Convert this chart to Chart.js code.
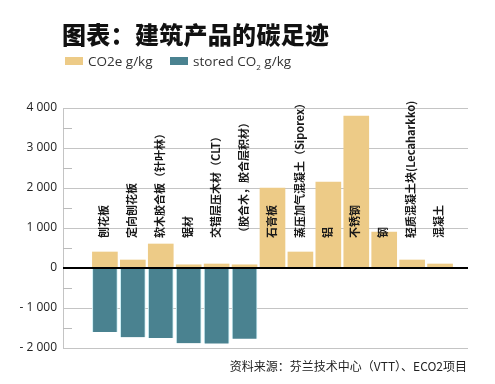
<!DOCTYPE html>
<html>
<head>
<meta charset="utf-8">
<script src="https://cdn.jsdelivr.net/npm/chart.js@4"></script>
<style>
    body { margin: 0; background: #fff; font-family: 'Noto Sans CJK SC', 'Noto Sans', sans-serif; }
    #wrap { position: relative; width: 495px; height: 384px; }
    #title { position: absolute; left: 62px; top: 16px; font-size: 24px; font-weight: 900; color: #111; letter-spacing: 0.3px; }
    #legend { position: absolute; left: 65px; top: 52px; font-size: 13.5px; color: #333; font-family: 'Open Sans', 'Noto Sans', sans-serif; white-space: nowrap; }
    #legend span.box { display: inline-block; width: 18px; height: 8px; margin-right: 5px; vertical-align: 1px; }
    #legend span.item { margin-right: 14px; }
    #source { position: absolute; right: 28px; top: 357px; font-size: 12px; color: #222; }
</style>
</head>
<body>
<div id="wrap">
    <canvas id="chart" width="495" height="384"></canvas>
    <div id="title">图表：建筑产品的碳足迹</div>
    <div id="legend">
        <span class="item"><span class="box" style="background:#EDCB87"></span>CO2e g/kg</span>
        <span class="item"><span class="box" style="background:#4A8290"></span>stored CO<sub style="font-size:8px">2</sub> g/kg</span>
    </div>
    <div id="source">资料来源：芬兰技术中心（VTT）、ECO2项目</div>
</div>
<script>
// ── Data ──────────────────────────
const categories = [
    '刨花板',
    '定向刨花板',
    '软木胶合板（针叶林）',
    '锯材',
    '交错层压木材（CLT）',
    '（胶合木，胶合层积材）',
    '石膏板',
    '蒸压加气混凝土（Siporex）',
    '铝',
    '不锈钢',
    '钢',
    '轻质混凝土块(Lecaharkko)',
    '混凝土'
];
const co2e = [400, 200, 600, 80, 100, 80, 2000, 400, 2150, 3800, 900, 200, 100];
const storedCo2 = [-1600, -1730, -1750, -1880, -1890, -1770];
const yTicks = [-2000, -1000, 0, 1000, 2000, 3000, 4000];

const YELLOW = '#EDCB87';
const TEAL = '#4A8290';

function fmt(v) {
    const s = Math.abs(v).toString().replace(/\B(?=(\d{3})+(?!\d))/g, ' ');
    return (v < 0 ? '- ' : '') + s;
}

// vertical category labels inside the plot + minor ticks
const labelPlugin = {
    id: 'labels',
    afterDatasetsDraw(chart) {
        const { ctx, chartArea, scales: { x, y } } = chart;
        ctx.save();
        // minor ticks every 500
        ctx.strokeStyle = '#bbb';
        ctx.lineWidth = 1;
        for (let v = -1500; v < 4000; v += 1000) {
            const py = Math.round(y.getPixelForValue(v)) + 0.5;
            ctx.beginPath();
            ctx.moveTo(chartArea.left, py);
            ctx.lineTo(chartArea.left + 9, py);
            ctx.stroke();
        }
        // zero line
        const zy = y.getPixelForValue(0);
        ctx.strokeStyle = '#000';
        ctx.lineWidth = 2;
        ctx.beginPath();
        ctx.moveTo(chartArea.left, zy);
        ctx.lineTo(chartArea.right, zy);
        ctx.stroke();

        ctx.fillStyle = '#1a1a1a';
        ctx.font = 'bold 11px "Noto Sans CJK SC"';
        ctx.textAlign = 'left';
        ctx.textBaseline = 'middle';
        const base = y.getPixelForValue(750);
        categories.forEach((c, i) => {
            ctx.save();
            ctx.translate(x.getPixelForValue(i) - 1, base);
            ctx.rotate(-Math.PI / 2);
            ctx.fillText(c, 0, 0);
            ctx.restore();
        });
        ctx.restore();
    }
};

new Chart(document.getElementById('chart').getContext('2d'), {
    type: 'bar',
    data: {
        datasets: [
            {
                label: 'CO2e g/kg',
                data: co2e.map((v, i) => ({ x: i, y: v })),
                backgroundColor: YELLOW,
                barThickness: 25
            },
            {
                label: 'stored CO2 g/kg',
                data: storedCo2.map((v, i) => ({ x: i, y: v })),
                backgroundColor: TEAL,
                borderColor: '#cdeef4',
                borderWidth: { left: 1, right: 1 },
                barThickness: 25
            }
        ]
    },
    options: {
        responsive: false,
        animation: false,
        layout: { padding: { top: 108, bottom: 36, right: 27, left: 0 } },
        plugins: { legend: { display: false }, tooltip: { enabled: false } },
        scales: {
            x: { type: 'linear', min: -1.5, max: 13, offset: false, stacked: true, display: false },
            y: {
                stacked: true,
                min: -2000,
                max: 4000,
                afterFit: s => { s.width = 63; },
                afterBuildTicks: s => { s.ticks = yTicks.map(v => ({ value: v })); },
                ticks: {
                    padding: 6,
                    color: '#222',
                    font: { family: 'Open Sans', size: 12 },
                    callback: v => fmt(v)
                },
                grid: { color: '#c4c4c4', drawTicks: false },
                border: { color: '#c4c4c4' }
            }
        }
    },
    plugins: [labelPlugin]
});
</script>
</body>
</html>
